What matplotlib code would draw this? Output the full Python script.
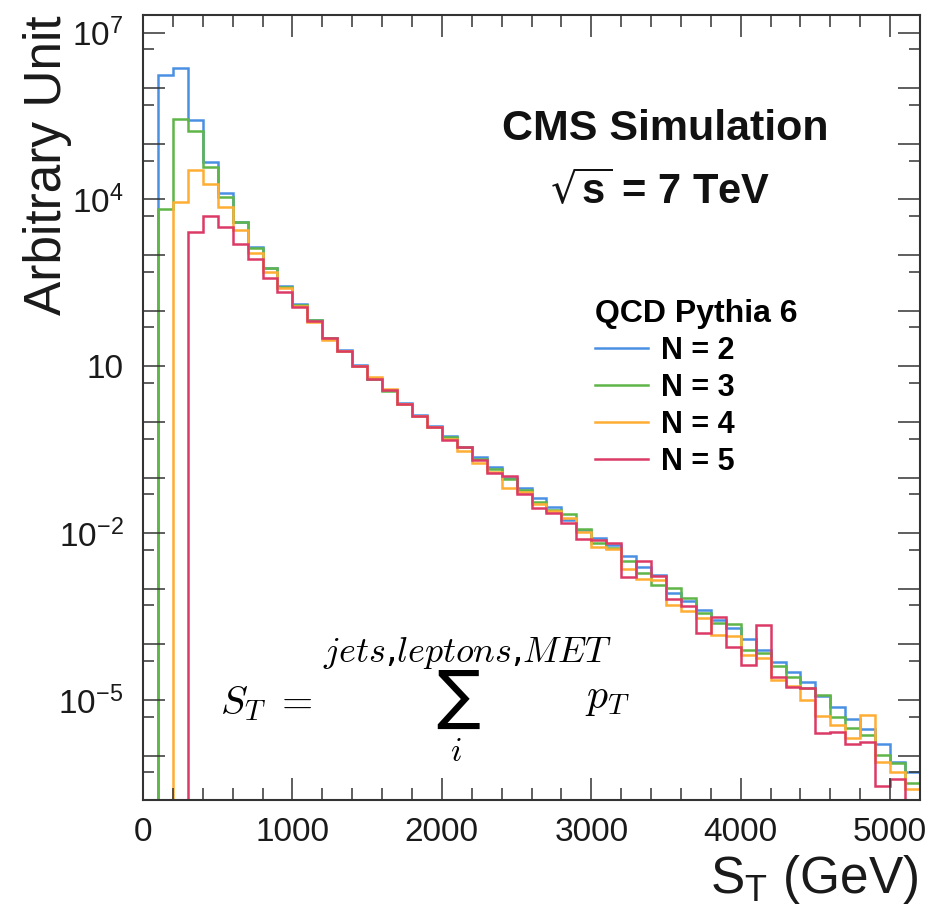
import numpy as np
import matplotlib
matplotlib.use("Agg")
import matplotlib.pyplot as plt
from matplotlib.lines import Line2D

# ---------------- data (log10 of "Arbitrary Unit") ----------------
bin_edges = np.arange(0, 5300, 100)          # S_T bins, GeV (52 bins, 0..5200)

log10_n2 = [None, 6.23, 6.36, 5.43, 4.67, 4.11, 3.60, 3.14, 2.77, 2.44,
            2.12, 1.84, 1.51, 1.29, 1.03, 0.78, 0.57, 0.34, 0.12, -0.08,
            -0.25, -0.45, -0.64, -0.82, -1.00, -1.18, -1.37, -1.525, -1.77, -1.94,
            -2.09, -2.21, -2.42, -2.61, -2.75, -3.08, -3.23, -3.385, -3.56, -3.71,
            -3.91, -4.10, -4.31, -4.49, -4.67, -4.93, -5.12, -5.35, -5.53, -5.80,
            -6.11, -6.29]
log10_n3 = [None, 3.83, 5.45, 5.23, 4.59, 4.05, 3.59, 3.13, 2.76, 2.43,
            2.11, 1.83, 1.50, 1.28, 1.01, 0.77, 0.56, 0.33, 0.11, -0.09,
            -0.28, -0.46, -0.66, -0.85, -1.03, -1.22, -1.435, -1.585, -1.66, -1.93,
            -2.18, -2.27, -2.51, -2.71, -2.93, -2.99, -3.16, -3.44, -3.62, -3.635,
            -4.10, -4.15, -4.39, -4.58, -4.79, -4.91, -5.30, -5.51, -5.63, -5.99,
            -6.13, -6.49]
log10_n4 = [None, None, 3.96, 4.53, 4.27, 3.87, 3.45, 3.03, 2.70, 2.40,
            2.09, 1.80, 1.48, 1.27, 1.00, 0.80, 0.59, 0.32, 0.10, -0.10,
            -0.31, -0.52, -0.745, -0.895, -1.19, -1.255, -1.475, -1.60, -1.735, -1.985,
            -2.25, -2.29, -2.65, -2.82, -2.84, -3.29, -3.395, -3.53, -3.83, -3.85,
            -4.19, -4.25, -4.64, -4.75, -5.01, -5.29, -5.45, -5.69, -5.27, -6.11,
            -6.30, -6.60]
log10_n5 = [None, None, None, 3.42, 3.71, 3.51, 3.20, 2.93, 2.59, 2.33,
            2.07, 1.815, 1.50, 1.28, 1.01, 0.78, 0.57, 0.33, 0.11, -0.09,
            -0.325, -0.457, -0.685, -0.92, -0.97, -1.30, -1.55, -1.645, -1.82, -2.11,
            -2.12, -2.17, -2.795, -2.50, -2.77, -3.19, -3.31, -3.80, -3.50, -4.04,
            -4.37, -3.65, -4.58, -4.77, -4.79, -5.59, -5.57, -5.79, -5.76, -6.55,
            -6.43, None]

series_labels = ["N = 2", "N = 3", "N = 4", "N = 5"]
series_colors = ["#4a90e2", "#5fb548", "#ffad33", "#dc3a66"]

y_tick_labels = {7: r"$10^{7}$", 4: r"$10^{4}$", 1: "10", -2: r"$10^{-2}$", -5: r"$10^{-5}$"}
x_tick_values = [0, 1000, 2000, 3000, 4000, 5000]

# ---------------- figure ----------------
W, H = 944, 911
fig = plt.figure(figsize=(W / 100, H / 100), dpi=100)
plt.rcParams["mathtext.default"] = "regular"
SANS = ["Liberation Sans", "DejaVu Sans"]

def fx(px):
    return px / W

def fy(py):
    return 1 - py / H

ax = fig.add_axes([fx(143), fy(800), (920 - 143) / W, (800 - 15) / H])
ax.set_yscale("log")
ymin, ymax = 10 ** -6.80, 10 ** 7.318
ax.set_xlim(0, 5200)
ax.set_ylim(ymin, ymax)

handles = []
for logs, lab, col in zip([log10_n2, log10_n3, log10_n4, log10_n5], series_labels, series_colors):
    vals = np.array([ymin if v is None else 10.0 ** v for v in logs])
    ax.stairs(vals, bin_edges, baseline=None, color=col, linewidth=1.8, label=lab)
    handles.append(Line2D([], [], color=col, linewidth=1.8))

# axes styling
for s in ax.spines.values():
    s.set_linewidth(1.5)
    s.set_color("#333333")
    s.set_zorder(5)

ax.set_xticks(x_tick_values)
ax.set_xticks(np.arange(0, 5201, 200), minor=True)
ax.set_xticklabels([str(v) for v in x_tick_values], fontsize=24, family=SANS, color="#1a1a1a")

decades = list(range(-6, 8))
ax.set_yticks([10.0 ** d for d in decades])
ax.set_yticklabels([y_tick_labels.get(d, "") for d in decades], fontsize=24, family=SANS, color="#1a1a1a")
ax.set_yticks([5 * 10.0 ** d for d in range(-7, 7)], minor=True)
ax.yaxis.set_minor_formatter(plt.NullFormatter())

ax.tick_params(which="both", direction="in", top=True, right=True, width=1.1, colors="#333333",
               labelcolor="#1a1a1a")
ax.tick_params(axis="x", which="major", length=16, pad=12)
ax.tick_params(axis="x", which="minor", length=8.5)
ax.tick_params(axis="y", which="major", length=16, pad=14)
ax.tick_params(axis="y", which="minor", length=8)

# axis titles (ROOT style, aligned to the ends)
fig.text(fx(48), fy(15), "Arbitrary Unit", rotation=90, ha="center", va="top",
         fontsize=37, family=SANS, color="#1a1a1a")
fig.text(fx(918), fy(893), r"$S_{T}$ (GeV)", ha="right", va="baseline",
         fontsize=37, family=SANS, color="#1a1a1a")

# CMS labels
fig.text(fx(665), fy(140), "CMS Simulation", ha="center", va="baseline",
         fontsize=31, fontweight="bold", family=SANS, color="#111111")
fig.text(fx(660), fy(204), r"$\sqrt{s}$ = 7 TeV", ha="center", va="baseline",
         fontsize=30, fontweight="bold", family=SANS, color="#111111", math_fontfamily="dejavusans")

# legend
leg = ax.legend(handles, series_labels, title="QCD Pythia 6", loc="upper left",
                bbox_to_anchor=(fx(595), fy(299)), bbox_transform=fig.transFigure,
                frameon=False, borderpad=0, borderaxespad=0, handlelength=1.75,
                handletextpad=0.4, labelspacing=0.23,
                prop={"family": SANS, "weight": "bold", "size": 22},
                title_fontproperties={"family": SANS, "weight": "bold", "size": 23},
                alignment="left")

# formula (TeX style)
fig.text(fx(220), fy(714), r"$\mathit{S}_{\mathit{T}}\ \mathrm{=}$", ha="left", va="baseline",
         fontsize=29, math_fontfamily="cm", color="black")
fig.text(fx(458), fy(699), r"$\sum$", ha="center", va="center", fontsize=47,
         math_fontfamily="cm", color="black")
fig.text(fx(467), fy(662), r"$\mathit{jets}{,}\mathit{leptons}{,}\mathit{MET}$", ha="center",
         va="baseline", fontsize=26, math_fontfamily="cm", color="black")
fig.text(fx(456), fy(761), r"$\mathit{i}$", ha="center", va="baseline", fontsize=24,
         math_fontfamily="cm", color="black")
fig.text(fx(585), fy(708), r"$\mathit{p}_{\mathit{T}}$", ha="left", va="baseline", fontsize=30,
         math_fontfamily="cm", color="black")

fig.savefig("out.png", dpi=100)
